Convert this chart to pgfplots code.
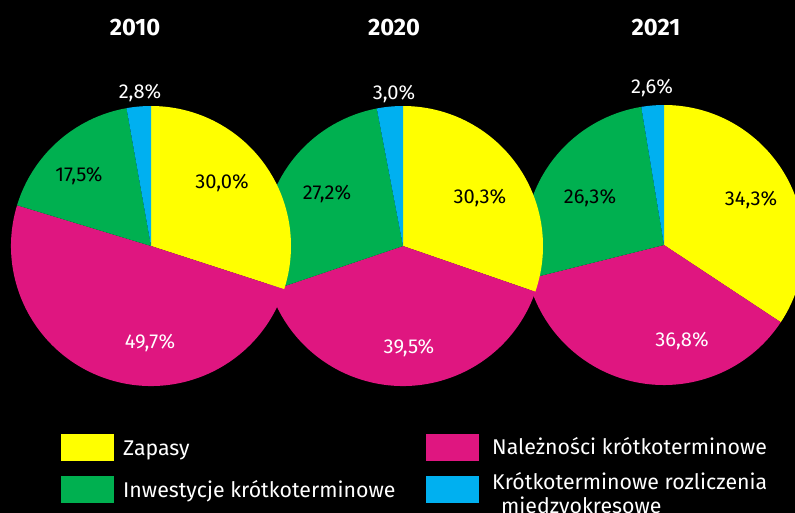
\documentclass[border=0pt]{standalone}
\usepackage{pgfplots}
\pgfplotsset{compat=1.18}
\usepackage{pgfplotstable}
\usepackage{fontspec}
\setmainfont{Fira Sans}
\definecolor{cYel}{HTML}{FFFF00}
\definecolor{cMag}{HTML}{DF1680}
\definecolor{cGrn}{HTML}{00B050}
\definecolor{cCya}{HTML}{00B0F0}

% center x, center y (pixels from top), shares in %
\pgfplotstableread{
row cx cy zap nal inw kro
0 151 246 30.0 49.7 17.5 2.8
1 403 246 30.3 39.5 27.2 3.0
2 664 245 34.3 36.8 26.3 2.6
}\piedata

\newcommand\pie[6]{%
  \fill[cYel] (axis cs:#1,#2) -- +(90:140bp) arc[start angle=90, end angle={90-3.6*#3}, radius=140bp] -- cycle;
  \fill[cMag] (axis cs:#1,#2) -- +({90-3.6*#3}:140bp) arc[start angle={90-3.6*#3}, end angle={90-3.6*(#3+#4)}, radius=140bp] -- cycle;
  \fill[cGrn] (axis cs:#1,#2) -- +({90-3.6*(#3+#4)}:140bp) arc[start angle={90-3.6*(#3+#4)}, end angle={90-3.6*(#3+#4+#5)}, radius=140bp] -- cycle;
  \fill[cCya] (axis cs:#1,#2) -- +({90-3.6*(#3+#4+#5)}:140bp) arc[start angle={90-3.6*(#3+#4+#5)}, end angle={90-3.6*(#3+#4+#5+#6)}, radius=140bp] -- cycle;
}
\newcommand\piefrom[1]{%
  \edef\next{\noexpand\pie{\csname Pcx#1\endcsname}{\csname Pcy#1\endcsname}{\csname Pzap#1\endcsname}{\csname Pnal#1\endcsname}{\csname Pinw#1\endcsname}{\csname Pkro#1\endcsname}}%
  \next}

\begin{document}
\begin{tikzpicture}
\foreach \r in {0,1,2}{%
  \foreach \c in {cx,cy,zap,nal,inw,kro}{%
    \pgfplotstablegetelem{\r}{\c}\of\piedata
    \expandafter\xdef\csname P\c\r\endcsname{\pgfplotsretval}%
  }%
}
\fill[black] (0,0) rectangle (795bp,513bp);
\begin{axis}[at={(0,0)}, anchor=south west, width=795bp, height=513bp,
  scale only axis, xmin=0, xmax=795, ymin=0, ymax=513, y dir=reverse,
  hide axis, clip=true]
\piefrom{2}
\piefrom{1}
\piefrom{0}
% titles
\node[anchor=base, text=white, font=\fontsize{23.8}{26}\selectfont\bfseries] at (axis cs:135,36) {2010};
\node[anchor=base, text=white, font=\fontsize{23.8}{26}\selectfont\bfseries] at (axis cs:394,36) {2020};
\node[anchor=base, text=white, font=\fontsize{23.8}{26}\selectfont\bfseries] at (axis cs:656,36) {2021};
% percentage labels
\begin{scope}[every node/.style={anchor=base, font=\fontsize{20.2}{23}\selectfont}]
\node[text=white] at (axis cs:140,98) {2,8\%};
\node[text=black] at (axis cs:222,188) {30,0\%};
\node[text=black] at (axis cs:79,181) {17,5\%};
\node[text=white] at (axis cs:150,348) {49,7\%};
\node[text=white] at (axis cs:394,99) {3,0\%};
\node[text=black] at (axis cs:480,203) {30,3\%};
\node[text=black] at (axis cs:327,199) {27,2\%};
\node[text=white] at (axis cs:409,353) {39,5\%};
\node[text=white] at (axis cs:652,93) {2,6\%};
\node[text=black] at (axis cs:751,205) {34,3\%};
\node[text=black] at (axis cs:590,203) {26,3\%};
\node[text=white] at (axis cs:682,346) {36,8\%};
\end{scope}
% legend
\fill[cYel] (axis cs:61,434) rectangle (axis cs:114,461);
\fill[cGrn] (axis cs:61,476) rectangle (axis cs:114,503);
\fill[cMag] (axis cs:426,434) rectangle (axis cs:479,461);
\fill[cCya] (axis cs:426,476) rectangle (axis cs:479,503);
\begin{scope}[every node/.style={anchor=base west, text=white, inner sep=0pt, font=\fontsize{21.4}{24}\selectfont}]
\node at (axis cs:123,455) {Zapasy};
\node at (axis cs:123,497) {Inwestycje krótkoterminowe};
\node at (axis cs:492,454) {Należności krótkoterminowe};
\node at (axis cs:492,489) {Krótkoterminowe rozliczenia};
\node at (axis cs:501,513) {miedzyokresowe};
\end{scope}
\end{axis}
\pgfresetboundingbox
\useasboundingbox (0,0) rectangle (795bp,513bp);
\end{tikzpicture}
\end{document}
